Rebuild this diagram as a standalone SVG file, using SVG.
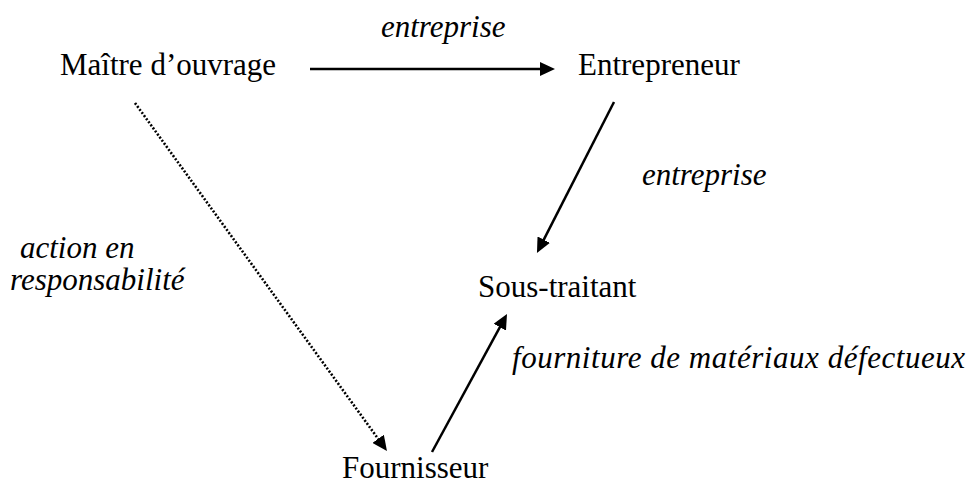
<svg xmlns="http://www.w3.org/2000/svg" width="969" height="490" viewBox="0 0 969 490">
<style>
.c{stroke:#000;stroke-width:2.5;fill:none}
.d{stroke:#000;stroke-width:2.6;fill:none;stroke-dasharray:2 1.8}
</style>
<defs>
<marker id="ah" markerUnits="userSpaceOnUse" markerWidth="15" markerHeight="14" refX="5" refY="7" orient="auto" viewBox="0 0 15 14">
<path d="M0,0 L15,7 L0,14 z" fill="#000"/>
</marker>
</defs>
<rect width="969" height="490" fill="#fff"/>
<g id="connectors">
<line class="c" x1="310" y1="69" x2="545" y2="69" marker-end="url(#ah)"/>
<line class="c" x1="614" y1="102" x2="541.5" y2="244.1" marker-end="url(#ah)"/>
<line class="c" x1="432" y1="452" x2="502.2" y2="322.8" marker-end="url(#ah)"/>
<line class="d" x1="135" y1="103" x2="381.1" y2="442.9" marker-end="url(#ah)"/>
</g>
<g font-family="Liberation Serif, Times New Roman, serif" font-size="31" fill="#000">
<g id="maitre"><text x="60" y="75">Maître d’ouvrage</text></g>
<g id="entrepreneur"><text x="578" y="75">Entrepreneur</text></g>
<g id="soustraitant"><text x="478" y="297">Sous-traitant</text></g>
<g id="fournisseur"><text x="342" y="478">Fournisseur</text></g>
<g id="labels" font-style="italic">
<text x="381" y="37">entreprise</text>
<text x="642" y="185">entreprise</text>
<text x="20" y="258">action en</text>
<text x="10" y="290">responsabilité</text>
<text x="512" y="368" textLength="453" lengthAdjust="spacing">fourniture de matériaux défectueux</text>
</g>
</g>
</svg>
